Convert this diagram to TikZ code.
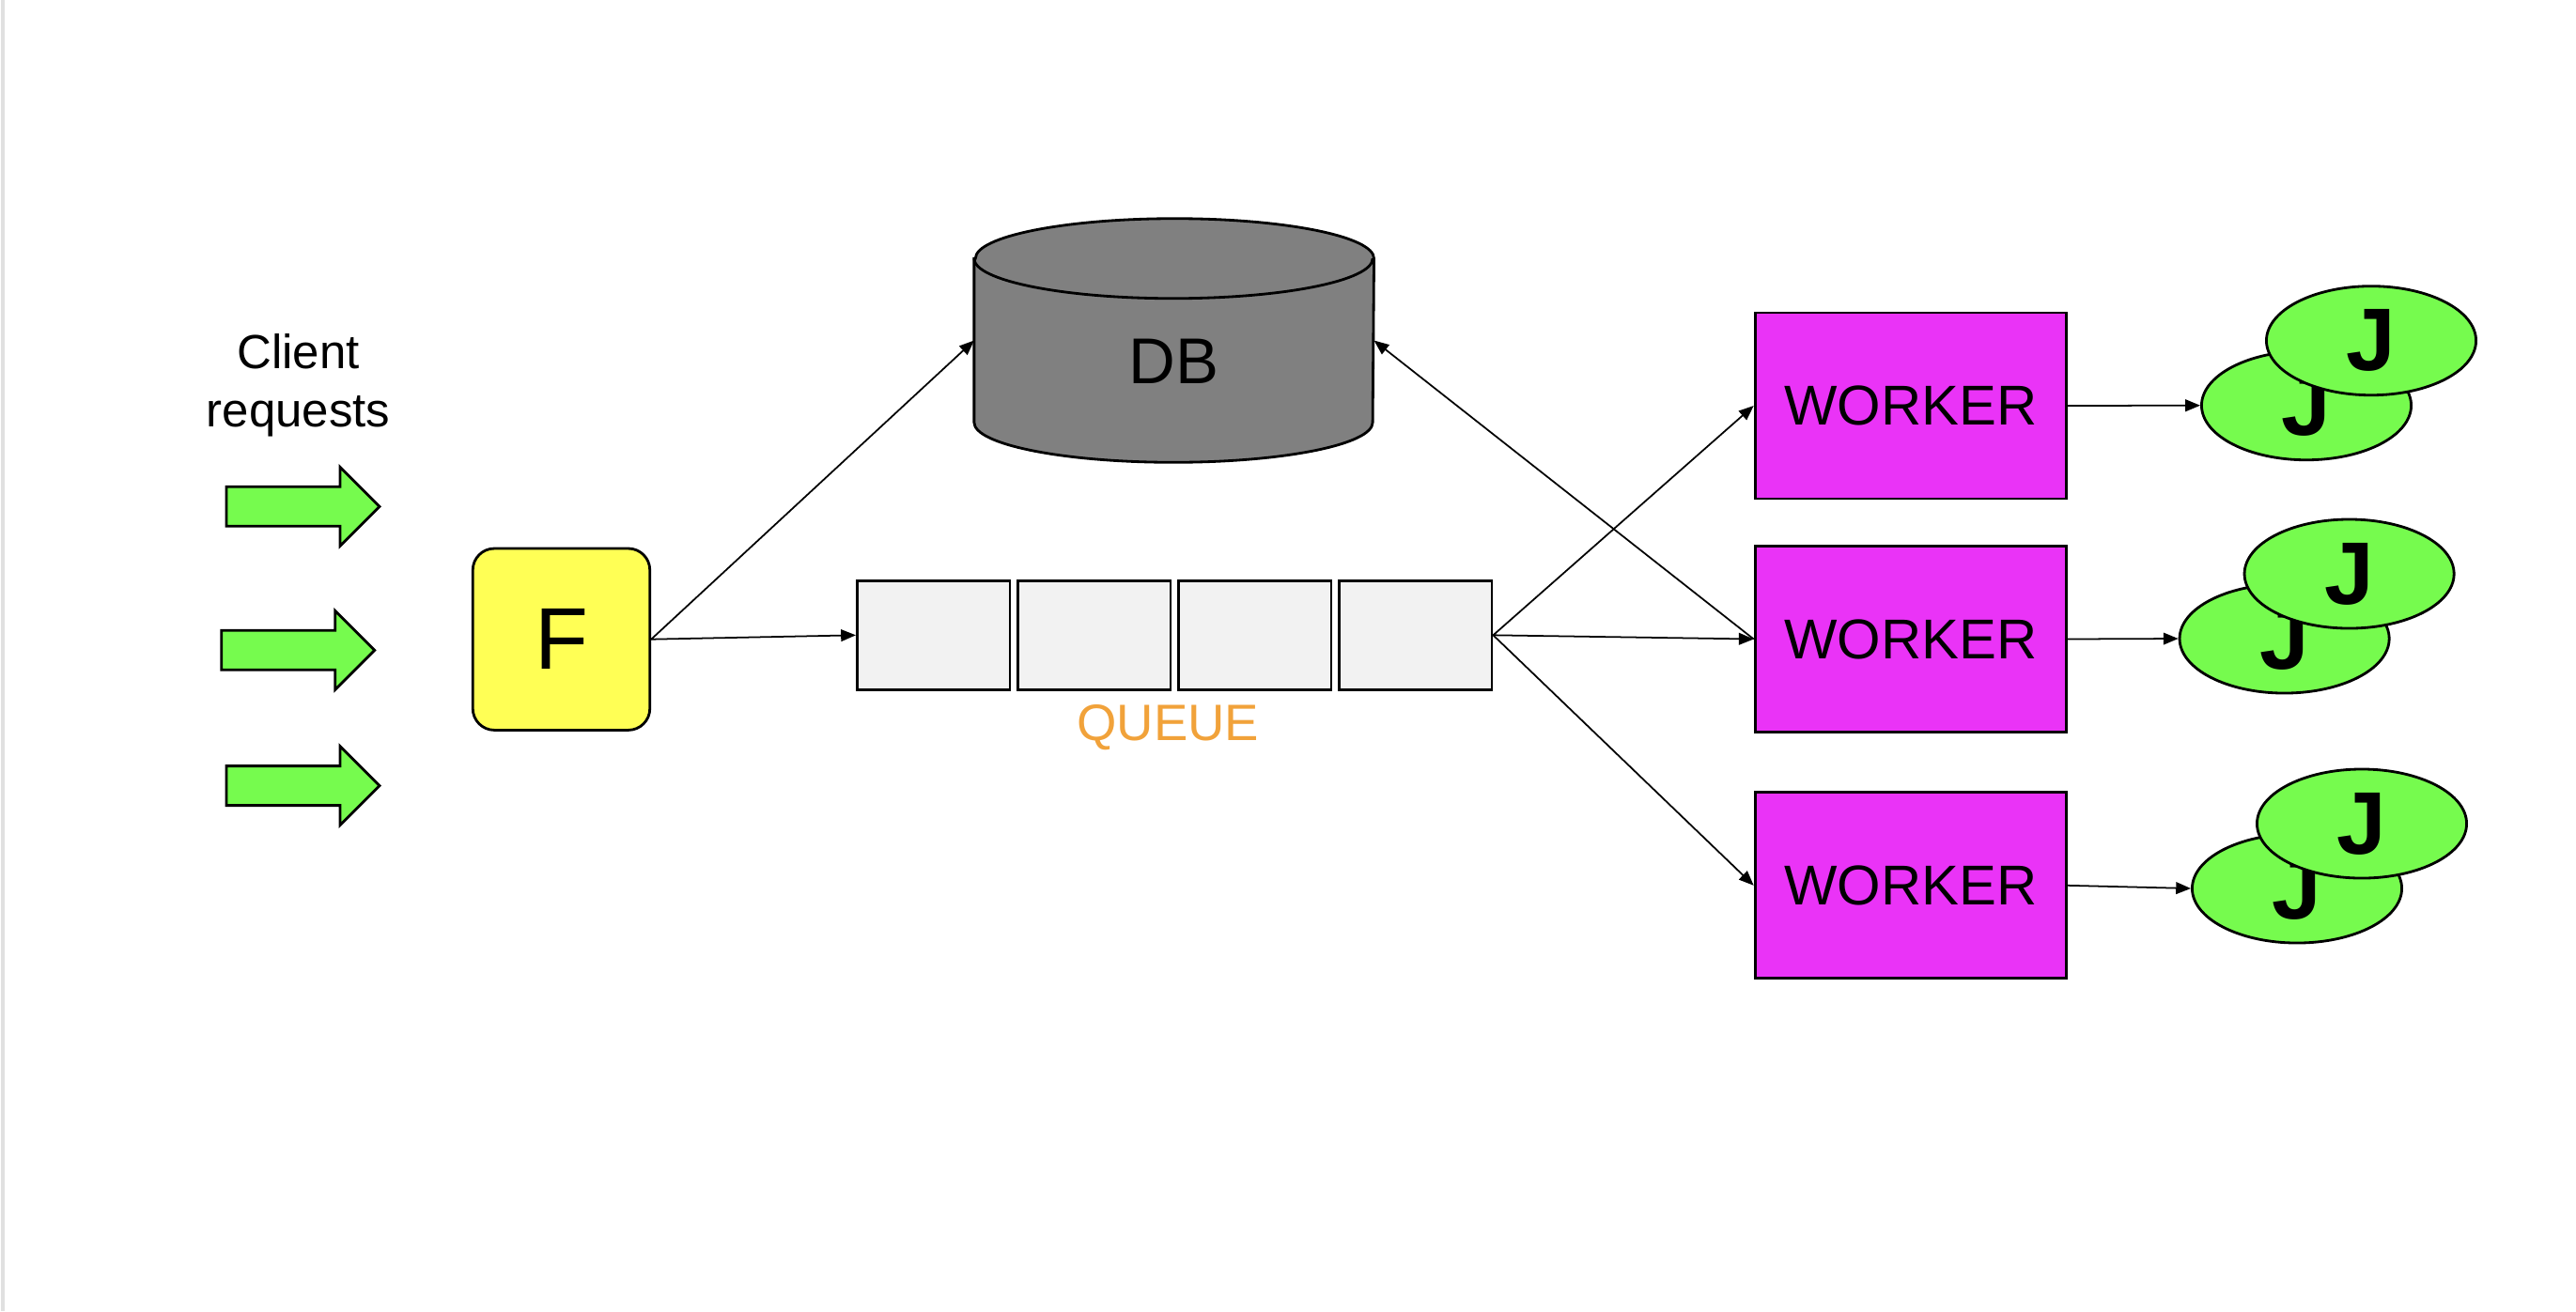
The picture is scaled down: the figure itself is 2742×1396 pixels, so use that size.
\documentclass[tikz,border=0pt]{standalone}
\usepackage{fontspec}
\setmainfont{Liberation Sans}
\usetikzlibrary{arrows.meta, shapes.geometric}
\definecolor{reqgreen}{RGB}{118,251,78}
\definecolor{fyellow}{RGB}{255,255,85}
\definecolor{wmagenta}{RGB}{234,51,247}
\definecolor{dbgray}{RGB}{128,128,128}
\definecolor{cellgray}{RGB}{242,242,242}
\definecolor{qorange}{RGB}{241,162,58}

\begin{document}
\begin{tikzpicture}[x=0.01cm, y=-0.01cm,
    box/.style={draw, line width=0.8pt, inner sep=0pt},
    conn/.style={-{Triangle[length=4.5pt,width=3.6pt]}, line width=0.5pt},
    worker/.style={box, fill=wmagenta, minimum width=3.31cm, minimum height=1.98cm, font=\fontsize{17}{20}\selectfont},
    cell/.style={box, fill=cellgray, minimum width=1.625cm, minimum height=1.16cm},
    job/.style={box, ellipse, fill=reqgreen, minimum width=2.23cm, minimum height=1.16cm, font=\fontsize{26.9}{30}\selectfont\bfseries},
    dbcap/.style={x radius=2.12cm, y radius=0.425cm}]
  \useasboundingbox (0,0) rectangle (2742,1396);
  \draw[black!12, line width=1pt] (3,0) -- (3,1396);

  \node[align=center, anchor=north, inner sep=0pt, font=\fontsize{14.5}{17.6}\selectfont] (client) at (317.5,355) {Client\\requests};
  \foreach \x/\y in {241/539.3, 235.7/692.3, 241/836.6}
    \draw[fill=reqgreen, line width=0.8pt] (\x,\y) ++(0,-21) -- ++(121,0) -- ++(0,-21) -- ++(42,42) -- ++(-42,42) -- ++(0,-21) -- ++(-121,0) -- cycle;

  \node[box, fill=fyellow, rounded corners=0.23cm, minimum width=1.884cm, minimum height=1.933cm, font=\fontsize{26.5}{30}\selectfont] (f) at (597.5,680.7) {F};

  \node[inner sep=0pt, minimum width=4.24cm, minimum height=2.58cm] (db) at (1249.7,362.5) {};
  \draw[fill=dbgray, line width=0.8pt] ([yshift=-0.425cm]db.north west) -- ([yshift=0.425cm]db.south west)
    arc[start angle=180, end angle=360, dbcap] -- ([yshift=-0.425cm]db.north east)
    arc[start angle=0, end angle=180, dbcap] -- cycle;
  \draw[line width=0.8pt] ([yshift=-0.425cm]db.north west) arc[start angle=180, end angle=360, dbcap];
  \node[font=\fontsize{19.6}{24}\selectfont] (dblabel) at ([yshift=-0.225cm]db.center) {DB};

  \foreach \i in {1,...,4}
    \node[cell] (q\i) at ({993.7+171*(\i-1)},676.3) {};
  \node[text=qorange, anchor=base, inner sep=0pt, font=\fontsize{15.5}{18}\selectfont] (queue) at (1243.3,788.3) {QUEUE};

  \foreach \i/\y in {1/432, 2/680.5, 3/942.8}
    \node[worker] (w\i) at (2033.7,\y) {WORKER};
  \foreach \i/\x/\y in {1/2455/431.7, 2/2431.6/680, 3/2445/946} {
    \node[job] (jb\i) at (\x,\y) {J};
    \node[job] (jf\i) at (\x+69,\y-69) {J};
  }

  \draw[conn] (f.east) -- (q1.west);
  \draw[conn] (f.east) -- (db.west);
  \foreach \i in {1,2,3} {
    \draw[conn] (q4.east) -- (w\i.west);
    \draw[conn] (w\i.east) -- (jb\i.west);
  }
  \draw[conn] (w2.west) -- (db.east);
\end{tikzpicture}
\end{document}
